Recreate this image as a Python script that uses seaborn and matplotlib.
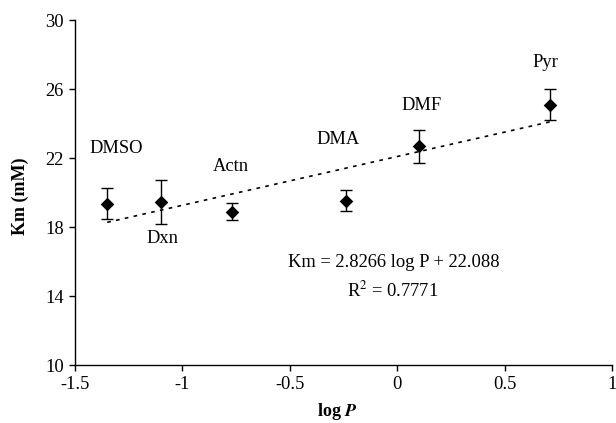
import numpy as np
import pandas as pd
import matplotlib
matplotlib.use("Agg")
import matplotlib.pyplot as plt
import seaborn as sns

# Solvent data: log P, Km (mM) and its error
solvents = ["DMSO", "Dxn", "Actn", "DMA", "DMF", "Pyr"]
log_p = [-1.35, -1.10, -0.77, -0.24, 0.10, 0.71]
km = [19.35, 19.45, 18.88, 19.52, 22.68, 25.08]
km_err = [0.90, 1.25, 0.50, 0.60, 0.97, 0.90]

# Linear trend (stated in the equation text)
slope = 2.8266
intercept = 22.088
r_squared = 0.7771

# Label anchor positions in data units
label_x = [-1.31, -1.095, -0.775, -0.275, 0.115, 0.69]
label_y = [22.55, 17.35, 21.5, 23.05, 25.05, 27.55]

x_ticks = [-1.5, -1, -0.5, 0, 0.5, 1]
x_tick_labels = ["-1.5", "-1", "-0.5", "0", "0.5", "1"]
y_ticks = [10, 14, 18, 22, 26, 30]

df = pd.DataFrame({"solvent": solvents, "logP": log_p, "Km": km, "err": km_err})

sns.set_style("ticks")
plt.rcParams["font.family"] = ["Liberation Serif", "DejaVu Serif"]
plt.rcParams["mathtext.fontset"] = "stix"
plt.rcParams["text.color"] = "black"
plt.rcParams["axes.labelcolor"] = "black"

FS = 13.3

fig = plt.figure(figsize=(6.16, 4.23), dpi=100)
ax = fig.add_axes([0.1218, 0.137, 0.8717, 0.8157])

# trend line over the data range
xs = np.array([min(log_p), max(log_p)])
ax.plot(xs, slope * xs + intercept, color="black", lw=1.2,
        linestyle=(0, (2.2, 3.2)), zorder=1)

ax.errorbar(df["logP"], df["Km"], yerr=df["err"], fmt="none",
            ecolor="black", elinewidth=1.0, capsize=4.5, capthick=1.0, zorder=2)
sns.scatterplot(data=df, x="logP", y="Km", marker="D", s=48, color="black",
                edgecolor="black", linewidth=0, ax=ax, zorder=3, legend=False)

for name, lx, ly in zip(solvents, label_x, label_y):
    ax.text(lx, ly, name, ha="center", va="center", fontsize=FS, color="black")

ax.text(-0.014, 15.95, f"Km = {slope} log P + {intercept}",
        ha="center", va="center", fontsize=FS, color="black")
ax.text(-0.02, 14.35, f"R$^2$ = {r_squared}", ha="center", va="center",
        fontsize=FS, color="black")

ax.set_xlim(-1.5, 1)
ax.set_ylim(10, 30)
ax.set_xticks(x_ticks)
ax.set_xticklabels(x_tick_labels)
ax.set_yticks(y_ticks)
ax.tick_params(axis="both", labelsize=FS, length=4, width=1, direction="out",
               colors="black", pad=4)

ax.set_xlabel(r"log $\boldsymbol{P}$", fontsize=13, fontweight="bold", color="black")
ax.set_ylabel("Km (mM)", fontsize=13, fontweight="bold", color="black")
ax.xaxis.set_label_coords(0.488, -0.103)
ax.yaxis.set_label_coords(-0.085, 0.49)

sns.despine(ax=ax)
for s in ["left", "bottom"]:
    ax.spines[s].set_linewidth(1.0)
    ax.spines[s].set_color("black")

fig.savefig("out.png", dpi=100)
